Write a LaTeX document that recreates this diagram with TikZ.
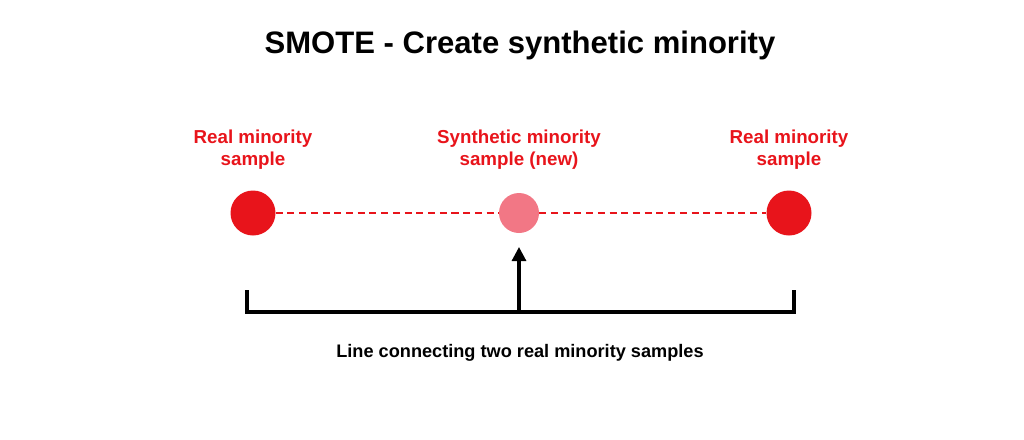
\documentclass[tikz,border=0pt]{standalone}
\usepackage{fontspec}
\setmainfont{Liberation Sans}
\usetikzlibrary{arrows.meta,positioning}
\definecolor{smred}{HTML}{E8141B}
\definecolor{smpink}{HTML}{F27785}
\begin{document}
\begin{tikzpicture}[x=0.03cm, y=-0.03cm,
    real/.style={circle, fill=smred, minimum size=1.35cm, inner sep=0pt},
    synth/.style={circle, fill=smpink, minimum size=1.2cm, inner sep=0pt},
    lbl/.style={text=smred, font=\fontsize{16}{19}\selectfont\bfseries, align=center}]
      \useasboundingbox (0,0) rectangle (1024,439);
      % title
      \node[font=\fontsize{26.5}{30}\selectfont\bfseries] (title) at (520,45) {SMOTE - Create synthetic minority};
      % samples
      \node[real] (left) at (253,213) {};
      \node[synth] (mid) at (519,213) {};
      \node[real] (right) at (789,213) {};
      \node[lbl] (leftlbl) at (253,150) {Real minority\\sample};
      \node[lbl] (midlbl) at (519,150) {Synthetic minority\\sample (new)};
      \node[lbl] (rightlbl) at (789,150) {Real minority\\sample};
      % dashed connections
      \draw[smred, line width=2pt, dash pattern=on 6pt off 4pt] (left) -- (mid);
      \draw[smred, line width=2pt, dash pattern=on 6pt off 4pt] (mid) -- (right);
      % bracket
      \coordinate (bl) at (247,290);
      \coordinate (br) at (794,290);
      \coordinate (bm) at (519,312);
      \draw[line width=2.6pt] (bl) -- (247,312) -- (794,312) -- (br);
      \draw[line width=2.6pt, -{Triangle[length=12pt,width=12pt]}] (bm) -- (519,247);
      \node[font=\fontsize{15.5}{18}\selectfont\bfseries] (caption) at (520,353) {Line connecting two real minority samples};
\end{tikzpicture}
\end{document}
